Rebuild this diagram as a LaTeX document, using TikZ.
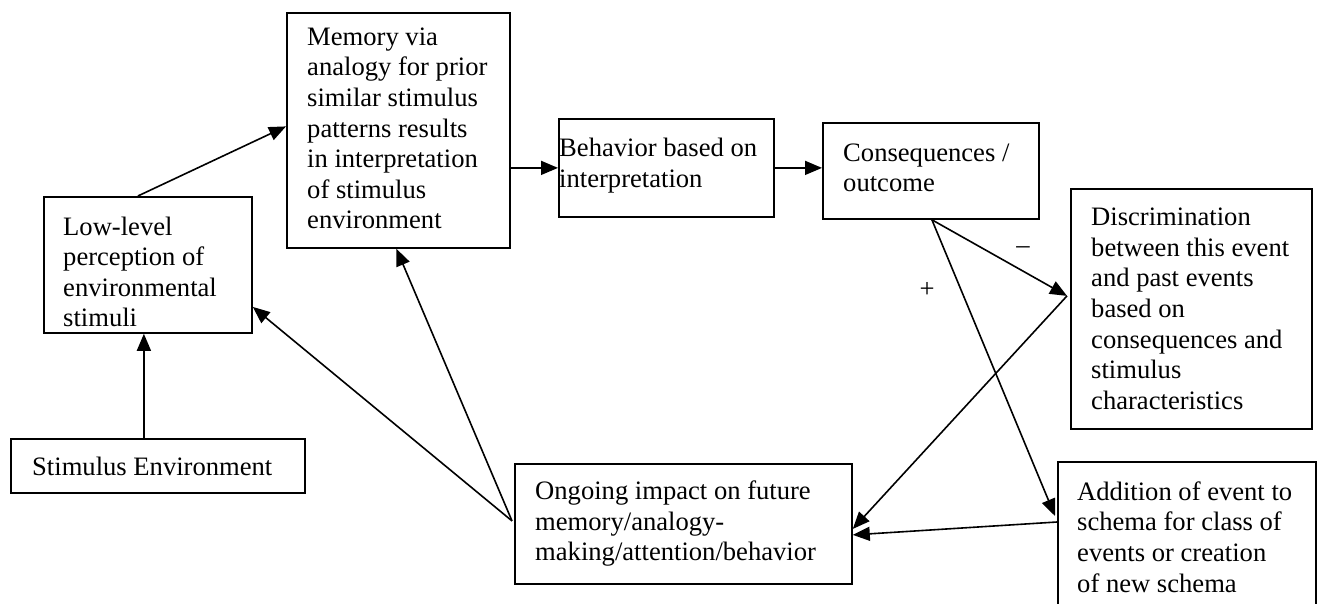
\documentclass[tikz,border=0pt]{standalone}
\usepackage{fontspec}
\setmainfont{Liberation Serif}
\usetikzlibrary{arrows.meta,calc}
\tikzset{
  box/.style={draw, line width=1.8pt, anchor=north west, inner sep=0pt},
  txt/.style={anchor=west, align=left, inner sep=0pt,
              font=\fontsize{26.6}{30.6}\selectfont},
  arr/.style={line width=1.6pt, -{Triangle[length=17pt,width=14pt]}},
  sign/.style={font=\fontsize{26.6}{30.6}\selectfont, inner sep=0pt}
}
\begin{document}
\begin{tikzpicture}[x=1pt,y=-1pt]
\useasboundingbox (0,0) rectangle (1319,604);
\fill[white] (0,0) rectangle (1319,604);
\clip (0,0) rectangle (1319,604);

% boxes
\node[box, minimum width=208pt, minimum height=136pt] (low) at (43,196) {};
\node[box, minimum width=223pt, minimum height=235pt] (mem) at (286,12) {};
\node[box, minimum width=215pt, minimum height=98pt] (beh) at (558,118) {};
\node[box, minimum width=216pt, minimum height=96pt] (cons) at (822,122) {};
\node[box, minimum width=241pt, minimum height=240pt] (disc) at (1070,188) {};
\node[box, minimum width=294pt, minimum height=54pt] (stim) at (10,438) {};
\node[box, minimum width=337pt, minimum height=120pt] (ong) at (514,463) {};
\node[box, minimum width=258pt, minimum height=150pt] (add) at (1057,461) {};

% texts
\node[txt] (lowt) at ([xshift=20pt,yshift=-7pt]low.west) {Low-level\\perception of\\environmental\\stimuli};
\node[txt] (memt) at ([xshift=21pt,yshift=2pt]mem.west) {Memory via\\analogy for prior\\similar stimulus\\patterns results\\in interpretation\\of stimulus\\environment};
\node[txt] (beht) at ([xshift=1pt,yshift=2pt]beh.west) {Behavior based on\\interpretation};
\node[txt] (const) at ([xshift=21pt,yshift=3pt]cons.west) {Consequences /\\outcome};
\node[txt] (disct) at ([xshift=21pt]disc.west) {Discrimination\\between this event\\and past events\\based on\\consequences and\\stimulus\\characteristics};
\node[txt] (stimt) at ([xshift=22pt]stim.west) {Stimulus Environment};
\node[txt] (ongt) at ([xshift=21pt]ong.west) {Ongoing impact on future\\memory/analogy-\\making/attention/behavior};
\node[txt] (addt) at ([xshift=20pt]add.west) {Addition of event to\\schema for class of\\events or creation\\of new schema};

\node[sign] (minus) at (1023,250) {–};
\node[sign] (plus) at (927,290) {+};

\coordinate (ls) at ([xshift=-4pt]low.south);
\coordinate (cb) at ([xshift=1pt]cons.south);
\coordinate (dl) at ([xshift=-3pt,yshift=13pt]disc.west);
\coordinate (al) at ([xshift=-2pt,yshift=-55pt]add.north west);
\coordinate (ol) at ([xshift=-2pt,yshift=3pt]ong.west);

\draw[arr] (ls |- stim.north) -- (ls);
\draw[arr] ([xshift=-10pt]low.north) -- ([yshift=4pt]mem.west);
\draw[arr] (mem.east |- beh.west) -- (beh.west);
\draw[arr] (beh.east) -- (beh.east -| cons.west);
\draw[arr] (cb) -- (dl);
\draw[arr] (cb) -- (al);
\draw[arr] (dl) -- ([yshift=-5pt]ong.east);
\draw[arr] ([yshift=-61pt]add.north west) -- ([yshift=-11pt]ong.east);
\draw[arr] (ol) -- ([xshift=-2pt]mem.south);
\draw[arr] (ol) -- ([yshift=-42pt]low.east);
\end{tikzpicture}
\end{document}
